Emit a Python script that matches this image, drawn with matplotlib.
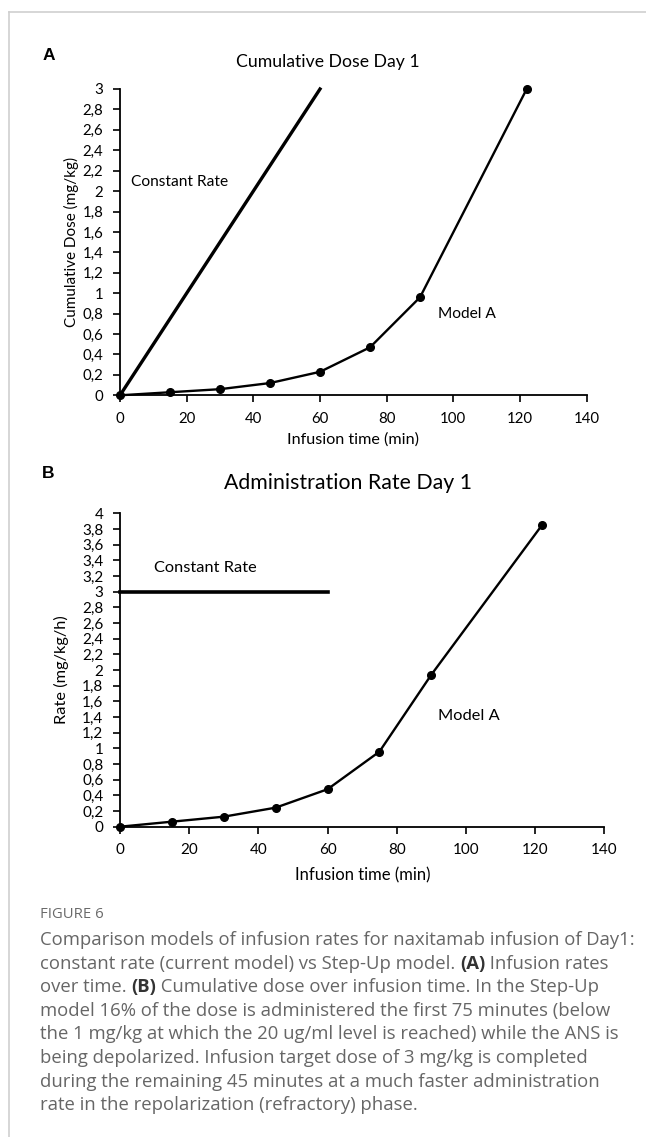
import matplotlib
matplotlib.use("Agg")
import matplotlib.pyplot as plt
from matplotlib.lines import Line2D

# ---- data ----
time_model = [0, 15, 30, 45, 60, 75, 90, 122]
dose_model = [0, 0.03, 0.06, 0.12, 0.23, 0.47, 0.96, 3.0]
rate_model = [0, 0.064, 0.128, 0.243, 0.478, 0.958, 1.94, 3.85]

time_const = [0, 60]
dose_const = [0, 3.0]
rate_const = [3.0, 3.0]

x_ticks = [0, 20, 40, 60, 80, 100, 120, 140]
dose_ticks = [0, 0.2, 0.4, 0.6, 0.8, 1, 1.2, 1.4, 1.6, 1.8, 2, 2.2, 2.4, 2.6, 2.8, 3]
rate_ticks = [0, 0.2, 0.4, 0.6, 0.8, 1, 1.2, 1.4, 1.6, 1.8, 2, 2.2, 2.4, 2.6, 2.8,
              3, 3.2, 3.4, 3.6, 3.8, 4]

caption_lines = [
    [("Comparison models of infusion rates for naxitamab infusion of Day1:", False)],
    [("constant rate (current model) vs Step-Up model. ", False), ("(A)", True),
     (" Infusion rates", False)],
    [("over time. ", False), ("(B)", True),
     (" Cumulative dose over infusion time. In the Step-Up", False)],
    [("model 16% of the dose is administered the first 75 minutes (below", False)],
    [("the 1 mg/kg at which the 20 ug/ml level is reached) while the ANS is", False)],
    [("being depolarized. Infusion target dose of 3 mg/kg is completed", False)],
    [("during the remaining 45 minutes at a much faster administration", False)],
    [("rate in the repolarization (refractory) phase.", False)],
]

W, H = 646, 1137
CHART_FONT = "Lato"


def fx(px):
    return px / W


def fy(py):
    return 1 - py / H


def comma(v):
    s = f"{v:g}"
    return s.replace(".", ",")


def style_axes(ax, yticks, ymax, tick_size):
    ax.set_xlim(0, 140)
    ax.set_ylim(0, ymax)
    for side in ("top", "right"):
        ax.spines[side].set_visible(False)
    for side in ("left", "bottom"):
        ax.spines[side].set_linewidth(1.3)
    ax.set_xticks(x_ticks)
    ax.set_xticklabels([str(t) for t in x_ticks], fontfamily=CHART_FONT, fontsize=tick_size)
    ax.set_yticks(yticks)
    ax.set_yticklabels([comma(t) for t in yticks], fontfamily=CHART_FONT, fontsize=tick_size)
    ax.tick_params(direction="out", length=5, width=1.2, pad=7)
    ax.patch.set_alpha(0)


fig = plt.figure(figsize=(W / 100, H / 100), dpi=100)

# page border
fig.add_artist(Line2D([fx(9), fx(9)], [0, fy(12)], color="#cfcfcf", lw=1.2))
fig.add_artist(Line2D([fx(9), 1], [fy(12), fy(12)], color="#cfcfcf", lw=1.2))

# ---- panel A: cumulative dose ----
axA = fig.add_axes([fx(120), fy(395.3), fx(586.7 - 120), (395.3 - 89) / H])
style_axes(axA, dose_ticks, 3, 10.8)
axA.plot(time_const, dose_const, color="black", lw=2.4, clip_on=False)
axA.plot(time_model, dose_model, color="black", lw=1.7, marker="o", ms=5.5, clip_on=False)
axA.text(3.3, 2.09, "Constant Rate", fontfamily=CHART_FONT, fontsize=11.2, va="center")
axA.text(95.4, 0.80, "Model A", fontfamily=CHART_FONT, fontsize=11.2, va="center")

fig.text(fx(327.6), fy(62), "Cumulative Dose Day 1", fontfamily=CHART_FONT,
         fontsize=12.7, ha="center", va="center")
fig.text(fx(48.6), fy(56), "A", fontfamily="Liberation Sans", fontweight="bold",
         fontsize=12.5, ha="center", va="center")
fig.text(fx(353), fy(440), "Infusion time (min)", fontfamily=CHART_FONT,
         fontsize=11.6, ha="center", va="center")
fig.text(fx(71), fy(242), "Cumulative Dose (mg/kg)", fontfamily=CHART_FONT,
         fontsize=11, ha="center", va="center", rotation=90)

# ---- panel B: administration rate ----
axB = fig.add_axes([fx(120), fy(826.7), fx(604.3 - 120), (826.7 - 513.3) / H])
style_axes(axB, rate_ticks, 4, 11)
axB.plot(time_const, rate_const, color="black", lw=2.6, clip_on=False)
axB.plot(time_model, rate_model, color="black", lw=1.7, marker="o", ms=5.5, clip_on=False)
axB.text(9.7, 3.30, "Constant Rate", fontfamily=CHART_FONT, fontsize=11.8, va="center")
axB.text(91.9, 1.41, "Model A", fontfamily=CHART_FONT, fontsize=11.8, va="center")

fig.text(fx(348), fy(483.3), "Administration Rate Day 1", fontfamily=CHART_FONT,
         fontsize=15.3, ha="center", va="center")
fig.text(fx(48.6), fy(473), "B", fontfamily="Liberation Sans", fontweight="bold",
         fontsize=12.5, ha="center", va="center")
fig.text(fx(362.6), fy(875), "Infusion time (min)", fontfamily=CHART_FONT,
         fontsize=12, ha="center", va="center")
fig.text(fx(61), fy(670), "Rate (mg/kg/h)", fontfamily=CHART_FONT,
         fontsize=11.8, ha="center", va="center", rotation=90)

# ---- caption ----
fig.text(fx(40), fy(914), "FIGURE 6", fontfamily="Open Sans", fontsize=10.7,
         color="#6a6a6a", va="center")

renderer = fig.canvas.get_renderer()
for i, segs in enumerate(caption_lines):
    x = 40
    y = 940 + i * 23.6
    for txt, bold in segs:
        t = fig.text(fx(x), fy(y), txt, fontfamily="Open Sans", fontsize=13.3,
                     color="#333333" if bold else "#666666",
                     fontweight="bold" if bold else "normal", va="center")
        x += t.get_window_extent(renderer).width

fig.savefig("out.png", dpi=100)
